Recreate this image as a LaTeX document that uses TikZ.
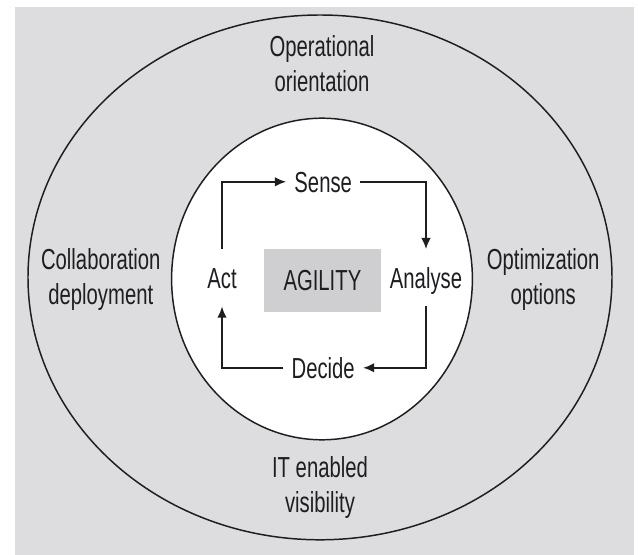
\documentclass[tikz,border=0pt]{standalone}
\usepackage{fontspec}
\setmainfont{Liberation Sans}[FakeStretch=0.7]
\usepackage{xcolor}
\usepackage{tikz}
\usetikzlibrary{shapes,arrows.meta,positioning,calc}

\definecolor{bggray}{RGB}{221,221,223}
\definecolor{boxgray}{RGB}{207,207,209}
\definecolor{inkgray}{RGB}{30,30,34}

\begin{document}
\begin{tikzpicture}[
    ring/.style={draw=inkgray, line width=1.05pt},
    label/.style={font=\fontsize{20.6}{25}\selectfont, text=inkgray, align=center},
    cycle/.style={label, text height=0.52cm, text depth=0cm, inner xsep=0.2cm, inner ysep=0.45cm},
    core/.style={label, fill=boxgray, minimum width=2.93cm, minimum height=1.58cm},
    arrow/.style={-{Latex[length=2.8mm,width=2.4mm]}, draw=inkgray, line width=1.4pt}
]
\useasboundingbox (0,0) rectangle (15.95,13.875);
\fill[bggray] (0.375,0) rectangle (15.85,13.7);

% rings
\draw[ring] (8.0,6.94) ellipse [x radius=7.3cm, y radius=6.56cm];
\draw[ring, fill=white] (8.05,6.9) ellipse [x radius=3.76cm, y radius=4.02cm];

% outer ring labels
\node[label] (ops) at (8.05,12.28) {Operational\\orientation};
\node[label] (collab) at (2.52,6.88) {Collaboration\\deployment};
\node[label] (optim) at (13.58,6.88) {Optimization\\options};
\node[label] (vis) at (8.0,1.68) {IT enabled\\visibility};

% agility cycle
\node[core] (agility) at (8.06,6.86) {AGILITY};
\node[cycle] (sense) at (8.08,9.33) {Sense};
\node[cycle] (analyse) at (10.65,6.93) {Analyse};
\node[cycle] (decide) at (8.08,4.68) {Decide};
\node[cycle] (act) at (5.55,6.93) {Act};

\draw[arrow] (act.north) |- (sense.west);
\draw[arrow] (sense.east) -| (analyse.north);
\draw[arrow] (analyse.south) |- (decide.east);
\draw[arrow] (decide.west) -| (act.south);

\end{tikzpicture}
\end{document}
